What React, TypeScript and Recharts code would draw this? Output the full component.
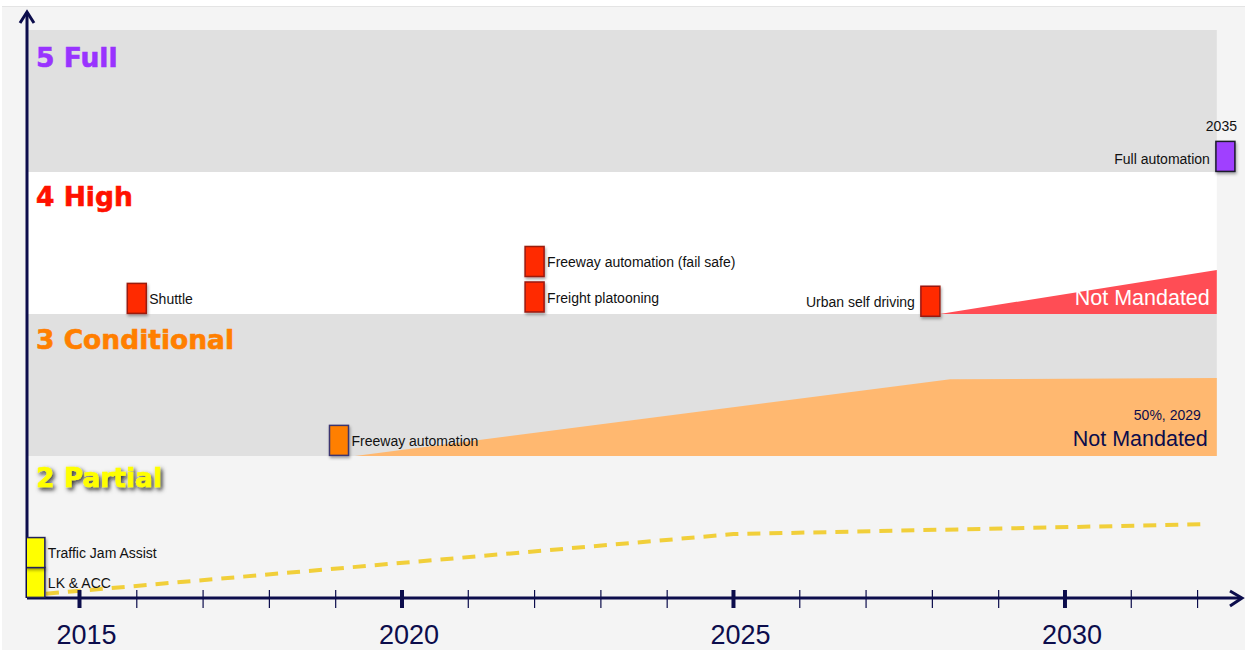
import React from "react";
import {
  Area,
  ComposedChart,
  LabelList,
  Line,
  ReferenceArea,
  ReferenceDot,
  ReferenceLine,
  Scatter,
  XAxis,
  YAxis,
} from "recharts";

const NAVY = "#0c0d4c";
const FONT = "'Liberation Sans', Arial, Helvetica, sans-serif";

// axis extent (years / level units), arrows included
const X_MIN = 2014.344;
const X_MAX = 2032.64;
const BAND_END = 2032.29;
const Y_MAX = 4.127;

const yearTicks = [
  2015, 2016, 2017, 2018, 2019, 2020, 2021, 2022, 2023, 2024, 2025, 2026, 2027, 2028, 2029,
  2030, 2031, 2032,
];

// automation levels, bottom to top
const levelNames = ["2 Partial", "3 Conditional", "4 High", "5 Full"];
const levelFloors = [0, 1, 2, 3];
const levelFills = ["#f4f4f4", "#e0e0e0", "#ffffff", "#e0e0e0"];
const levelColors = ["#ffff00", "#ff7f00", "#ff1100", "#9933ff"];
const levelLabelDy = [31, 35, 34, 37];

// milestones
const milestoneNames = [
  "LK & ACC",
  "Traffic Jam Assist",
  "Shuttle",
  "Freeway automation (fail safe)",
  "Freight platooning",
  "Urban self driving",
  "Freeway automation",
  "Full automation",
];
const milestoneYears = [2014.47, 2014.47, 2016.0, 2022.0, 2022.0, 2027.97, 2019.05, 2032.42];
const milestoneHeights = [0.11, 0.32, 2.11, 2.37, 2.12, 2.09, 1.11, 3.11];
const milestoneLevels = [2, 2, 4, 4, 4, 4, 3, 5];
const milestoneNotes = ["", "", "", "", "", "", "", "2035"];

// level 2 trend (dashed)
const trendYears = [2014.63, 2025.0, 2032.14];
const trendValues = [0.03, 0.45, 0.52];

// level 3 not-mandated wedge
const l3Years = [2019.29, 2028.27, 2032.29];
const l3Values = [1.0, 1.54, 1.55];

// level 4 not-mandated wedge
const l4Years = [2028.11, 2032.29];
const l4Values = [2.0, 2.31];

const milestones = milestoneNames.map((name, i) => ({
  name,
  year: milestoneYears[i],
  v: milestoneHeights[i],
  level: milestoneLevels[i],
  note: milestoneNotes[i],
}));
const trendData = trendYears.map((year, i) => ({ year, v: trendValues[i] }));
const l3Data = l3Years.map((year, i) => ({ year, low: 1, high: l3Values[i] }));
const l4Data = l4Years.map((year, i) => ({ year, low: 2, high: l4Values[i] }));

const boxStyle: Record<number, { fill: string; stroke: string }> = {
  2: { fill: "#ffff00", stroke: "#20205a" },
  3: { fill: "#ff7f00", stroke: "#3b3670" },
  4: { fill: "#ff2a00", stroke: "#9a1a10" },
  5: { fill: "#a040ff", stroke: "#1a1a2a" },
};
const labelOnLeft = ["Urban self driving", "Full automation"];

function LevelLabel(props: any) {
  const { viewBox, text, color, shadow, dy } = props;
  return (
    <text
      x={viewBox.x + 9}
      y={viewBox.y + dy}
      fontFamily="'DejaVu Sans', Verdana, sans-serif"
      fontWeight={700}
      fontSize={26.5}
      fill={color}
      stroke={color}
      strokeWidth={0.6}
      filter={shadow ? "url(#txtShadow)" : undefined}
    >
      {text}
    </text>
  );
}

function YearTick(props: any) {
  const { x, y, payload } = props;
  const major = payload.value % 5 === 0;
  // the source draws its first year mark a little to the right
  const tx = payload.value === yearTicks[0] ? x + 9 : x;
  return (
    <g>
      <line x1={tx} x2={tx} y1={y - 8} y2={y + 10} stroke={NAVY} strokeWidth={major ? 4 : 1.2} />
      {major && (
        <text x={tx + 7} y={y + 46} textAnchor="middle" fontSize={27} fill={NAVY} fontFamily={FONT}>
          {payload.value}
        </text>
      )}
    </g>
  );
}

function MilestoneShape(props: any) {
  const { cx, cy, payload } = props;
  const w = 19;
  const h = 30;
  const st = boxStyle[payload.level];
  const left = labelOnLeft.includes(payload.name);
  return (
    <g>
      <rect
        x={cx - w / 2}
        y={cy - h / 2}
        width={w}
        height={h}
        fill={st.fill}
        stroke={st.stroke}
        strokeWidth={1.5}
        filter="url(#boxShadow)"
      />
      <text
        x={left ? cx - w / 2 - 6 : cx + w / 2 + 3}
        y={cy + (payload.note ? 3 : 1)}
        dy="0.35em"
        textAnchor={left ? "end" : "start"}
        fontSize={14}
        fill="#111"
        fontFamily={FONT}
      >
        {payload.name}
      </text>
      {payload.note && (
        <text x={cx - 4} y={cy - h / 2 - 10} textAnchor="middle" fontSize={14} fill="#111" fontFamily={FONT}>
          {payload.note}
        </text>
      )}
    </g>
  );
}

function L4Note(props: any) {
  const { x, y, index } = props;
  if (index !== l4Data.length - 1) return null;
  return (
    <text x={x - 7} y={y + 35} textAnchor="end" fontSize={21.5} fill="#ffffff" fontFamily={FONT}>
      Not Mandated
    </text>
  );
}

function L3Note(props: any) {
  const { x, y, index } = props;
  if (index !== l3Data.length - 1) return null;
  return (
    <g fontFamily={FONT}>
      <text x={x - 16} y={y + 42} textAnchor="end" fontSize={14} fill={NAVY}>
        50%, 2029
      </text>
      <text x={x - 9} y={y + 68} textAnchor="end" fontSize={21.5} fill={NAVY}>
        Not Mandated
      </text>
    </g>
  );
}

function XArrow(props: any) {
  const { cx, cy } = props;
  return (
    <polyline
      points={`${cx - 10},${cy - 7} ${cx + 2},${cy} ${cx - 10},${cy + 8}`}
      fill="none"
      stroke={NAVY}
      strokeWidth={3}
    />
  );
}

function YArrow(props: any) {
  const { cx, cy } = props;
  return (
    <polyline
      points={`${cx - 7},${cy + 11} ${cx},${cy} ${cx + 7},${cy + 11}`}
      fill="none"
      stroke={NAVY}
      strokeWidth={3}
    />
  );
}

export default function App() {
  return (
    <div style={{ position: "absolute", left: 0, top: 0, width: 1245, height: 650, background: "#fff" }}>
      <div
        style={{
          position: "absolute",
          left: 2,
          top: 6,
          width: 1243,
          height: 644,
          background: "#f4f4f4",
          borderTop: "1px solid #e4e4e4",
        }}
      />
      <svg width={0} height={0} style={{ position: "absolute" }}>
        <defs>
          <filter id="boxShadow" x="-50%" y="-50%" width="200%" height="200%">
            <feDropShadow dx={1} dy={2} stdDeviation={1.5} floodColor="#000" floodOpacity={0.35} />
          </filter>
          <filter id="txtShadow" x="-10%" y="-40%" width="130%" height="200%">
            <feDropShadow dx={2} dy={2.5} stdDeviation={2} floodColor="#111" floodOpacity={0.85} />
          </filter>
        </defs>
      </svg>
      <div style={{ position: "absolute", left: 0, top: 0 }}>
        <ComposedChart width={1245} height={650} margin={{ top: 12, right: 5, bottom: 0, left: 27 }}>
          <XAxis
            type="number"
            dataKey="year"
            domain={[X_MIN, X_MAX]}
            allowDataOverflow
            ticks={yearTicks}
            interval={0}
            height={52}
            axisLine={{ stroke: NAVY, strokeWidth: 3 }}
            tickLine={false}
            tickSize={0}
            tickMargin={0}
            tick={<YearTick />}
          />
          <YAxis type="number" domain={[0, Y_MAX]} allowDataOverflow hide />

          {levelNames.map((name, i) => (
            <ReferenceArea
              key={name}
              x1={X_MIN}
              x2={BAND_END}
              y1={levelFloors[i]}
              y2={levelFloors[i] + 1}
              fill={levelFills[i]}
              fillOpacity={1}
              stroke="none"
              ifOverflow="visible"
              label={
                <LevelLabel text={name} color={levelColors[i]} shadow={i === 0} dy={levelLabelDy[i]} />
              }
            />
          ))}

          <Area
            data={l3Data}
            dataKey={(d: any) => [d.low, d.high]}
            type="linear"
            fill="#ffb870"
            fillOpacity={1}
            stroke="none"
            isAnimationActive={false}
          >
            <LabelList content={<L3Note />} />
          </Area>
          <Area
            data={l4Data}
            dataKey={(d: any) => [d.low, d.high]}
            type="linear"
            fill="#ff4d55"
            fillOpacity={1}
            stroke="none"
            isAnimationActive={false}
          >
            <LabelList content={<L4Note />} />
          </Area>

          <Line
            data={trendData}
            dataKey="v"
            type="linear"
            stroke="#f1cf3a"
            strokeWidth={4}
            strokeDasharray="13 9"
            dot={false}
            activeDot={false}
            isAnimationActive={false}
          />

          <ReferenceLine x={X_MIN} stroke={NAVY} strokeWidth={3} ifOverflow="visible" />

          <Scatter data={milestones} dataKey="v" shape={<MilestoneShape />} isAnimationActive={false} />

          <ReferenceDot x={X_MAX} y={0} r={0} ifOverflow="visible" shape={<XArrow />} />
          <ReferenceDot x={X_MIN} y={Y_MAX} r={0} ifOverflow="visible" shape={<YArrow />} />
        </ComposedChart>
      </div>
    </div>
  );
}
